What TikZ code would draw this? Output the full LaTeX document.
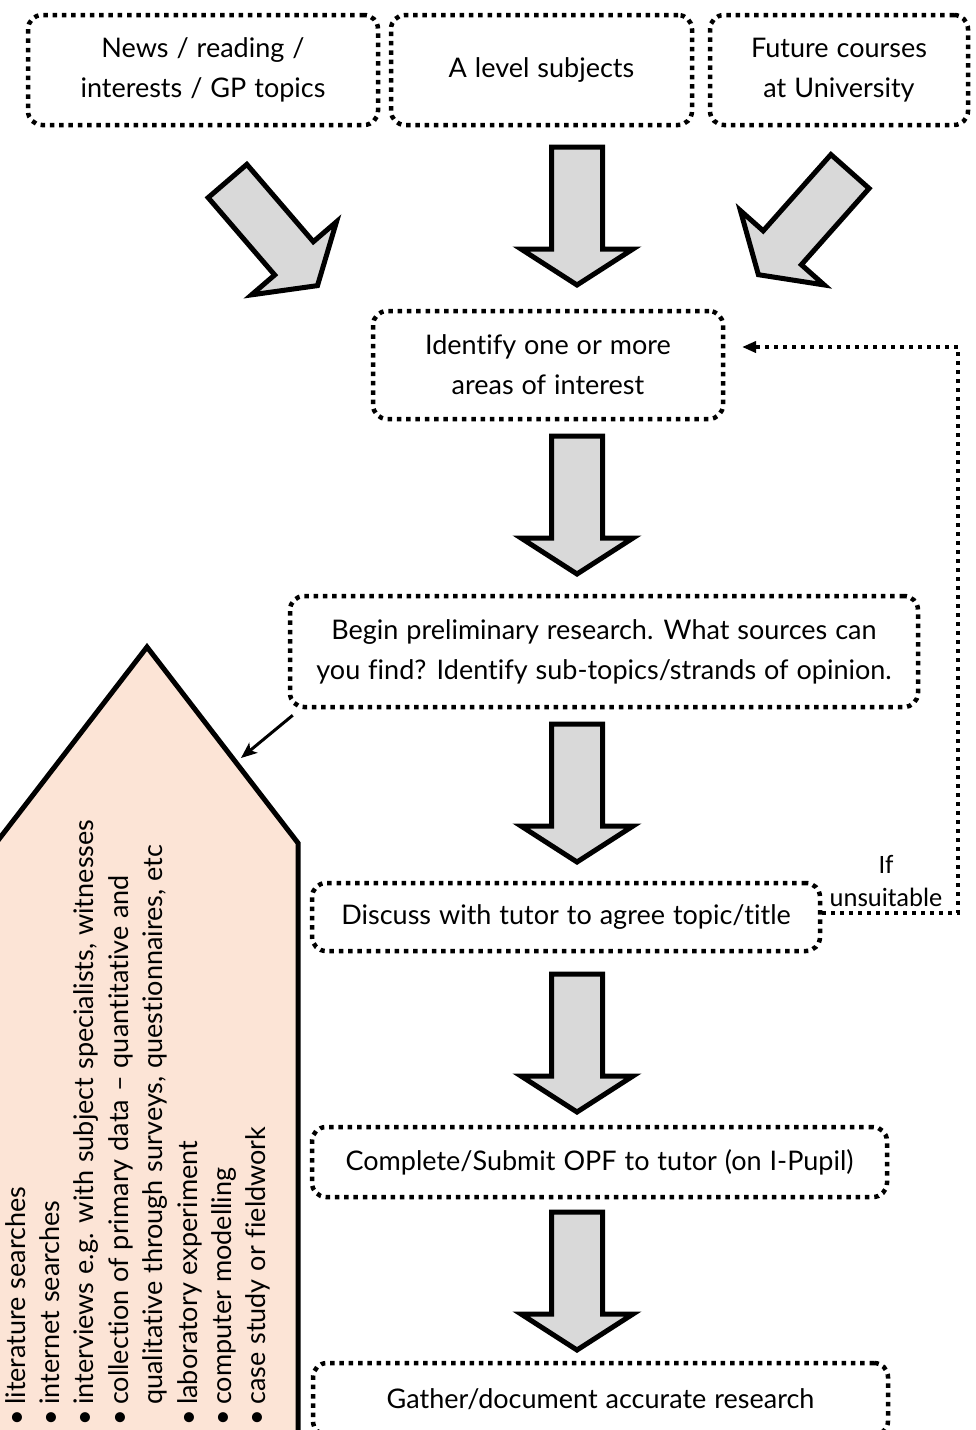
\documentclass[tikz,border=0pt]{standalone}
\usepackage{fontspec}
\setmainfont{Lato}[Ligatures=NoCommon, WordSpace=1.15]
\newfontfamily\calibfont{Carlito}
\usetikzlibrary{arrows.meta,calc}
\definecolor{peach}{RGB}{252,228,214}
\definecolor{arrowgray}{RGB}{217,217,217}
\tikzset{
  dotbox/.style={draw=black, line width=4.5pt, dash pattern=on 4.5pt off 4.8pt,
    rounded corners=14pt, align=center, inner sep=0pt,
    font=\fontsize{27}{40}\selectfont},
  blockarrow/.pic={\draw[line width=5pt, fill=arrowgray, line join=miter]
    (-25.5,0) -- (25.5,0) -- (25.5,102) -- (56,102) -- (0,138) -- (-56,102) -- (-25.5,102) -- cycle;},
  feedback/.style={line width=4pt, dash pattern=on 4pt off 5pt,
    -{Triangle[length=14pt,width=11pt]}},
  pointer/.style={line width=3pt, -{Stealth[length=16pt,width=13pt,inset=4pt]}},
  listtext/.style={rotate=90, anchor=north west, inner sep=0pt, align=left,
    font=\fontsize{27}{34.4}\selectfont},
  notetext/.style={align=center, inner sep=0pt, font=\calibfont\fontsize{26.5}{33}\selectfont},
}
\begin{document}
\begin{tikzpicture}[x=1pt,y=-1pt]
\path[use as bounding box, fill=white] (0,0) rectangle (976,1430);
\clip (0,0) rectangle (976,1430);

% top sources
\node[dotbox, minimum width=350pt, minimum height=110pt] (news) at (203,70) {News / reading /\\interests / GP topics};
\node[dotbox, minimum width=301pt, minimum height=110pt] (alevel) at (541.5,70) {A level subjects};
\node[dotbox, minimum width=258pt, minimum height=110pt] (future) at (839,70) {Future courses\\at University};

% flow boxes
\node[dotbox, minimum width=350pt, minimum height=108pt] (identify) at (548,365) {Identify one or more\\areas of interest};
\node[dotbox, minimum width=628pt, minimum height=111pt] (begin) at (604,651.5) {Begin preliminary research. What sources can\\you find? Identify sub-topics/strands of opinion.};
\node[dotbox, minimum width=508pt, minimum height=68pt] (discuss) at (566,917) {Discuss with tutor to agree topic/title};
\node[dotbox, minimum width=575pt, minimum height=70pt] (complete) at (599.5,1162) {Complete/Submit OPF to tutor (on I-Pupil)};
\node[dotbox, minimum width=575pt, minimum height=72pt] (gather) at (600.5,1399) {Gather/document accurate research};

% block arrows
\pic[rotate=40.7] at (227.5,181) {blockarrow};
\pic at (577,147) {blockarrow};
\pic[rotate=-41.6] at (850,171.5) {blockarrow};
\pic at (577,436) {blockarrow};
\pic at (577,724) {blockarrow};
\pic at (577,974) {blockarrow};
\pic at (577,1212) {blockarrow};

% methods pentagon
\draw[line width=5pt, fill=peach, line join=miter] (-4,843) -- (147,647) -- (298,843) -- (298,1445) -- (-4,1445) -- cycle;
\node[listtext] (methods) at (5,1426) {%
\makebox[21pt][l]{\textbullet}literature searches\\
\makebox[21pt][l]{\textbullet}internet searches\\
\makebox[21pt][l]{\textbullet}interviews e.g. with subject specialists, witnesses\\
\makebox[21pt][l]{\textbullet}collection of primary data – quantitative and\\
\hspace*{21pt}qualitative through surveys, questionnaires, etc\\
\makebox[21pt][l]{\textbullet}laboratory experiment\\
\makebox[21pt][l]{\textbullet}computer modelling\\
\makebox[21pt][l]{\textbullet}case study or fieldwork};

\coordinate (penttip) at (241,758);
\draw[pointer] ($(begin.south west)+(5,6)$) -- (penttip);

% feedback loop
\coordinate (loopbottom) at (958,913);
\coordinate (looptop) at (958,347);
\coordinate (loopend) at (742,347);
\draw[feedback] ($(discuss.east)+(0,-4)$) -- (loopbottom) -- (looptop) -- (loopend);
\node[notetext] (unsuitable) at (886,881) {If\\unsuitable};
\end{tikzpicture}
\end{document}
